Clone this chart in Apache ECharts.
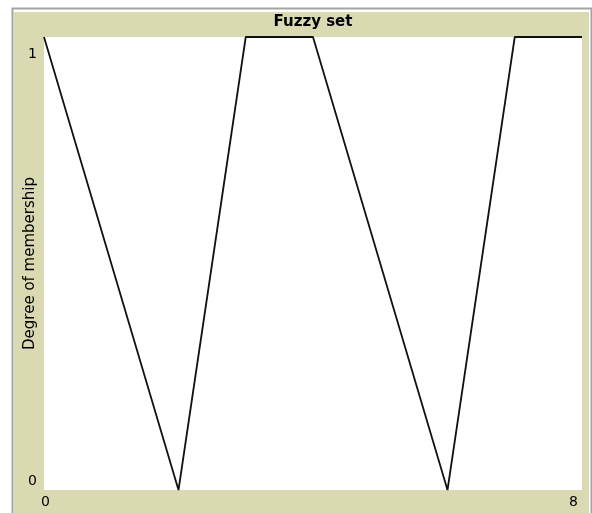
<!DOCTYPE html>
<html>
<head>
<meta charset="utf-8">
<script src="https://cdn.jsdelivr.net/npm/echarts@6/dist/echarts.min.js"></script>
<style>
    html, body { margin: 0; padding: 0; background: #fff; }
    #chart { width: 592px; height: 513px; }
</style>
</head>
<body>
<div id="chart"></div>
<script>
// membership function points [x, degree]
var xValues = [0, 2, 3, 4, 6, 7, 8];
var yValues = [1, 0, 1, 1, 0, 1, 1];
var xTicks = [0, 8];
var yTicks = [0, 1];

var points = xValues.map(function(x, i) {
    return [x, yValues[i]];
});

var beige = '#dadab2';
var chart = echarts.init(document.getElementById('chart'));

var option = {
    backgroundColor: '#fff',
    animation: false,
    graphic: [{
        type: 'rect',
        z: -10,
        shape: { x: 12.5, y: 8.5, width: 579, height: 520 },
        style: { fill: '#fff', stroke: '#a4a4a4', lineWidth: 2 }
    }, {
        type: 'rect',
        z: -9,
        shape: { x: 14, y: 12, width: 575, height: 510 },
        style: { fill: beige }
    }],
    title: {
        text: 'Fuzzy set',
        left: 313,
        top: 15,
        textAlign: 'center',
        padding: 0,
        textStyle: {
            fontFamily: 'DejaVu Sans',
            fontWeight: 'bold',
            fontSize: 15,
            color: '#000'
        }
    },
    grid: {
        left: 44,
        right: 10,
        top: 37,
        bottom: 23,
        show: true,
        backgroundColor: '#fff',
        borderWidth: 0
    },
    xAxis: {
        type: 'value',
        min: xTicks[0],
        max: xTicks[1],
        interval: xTicks[1] - xTicks[0],
        axisLine: { show: false },
        axisTick: { show: false },
        splitLine: { show: false },
        axisLabel: {
            margin: 5,
            fontFamily: 'DejaVu Sans',
            fontSize: 14,
            color: '#000',
            formatter: function(v) {
                return v === xTicks[0] ? '{lo|' + v + '}' : '{hi|' + v + '}';
            },
            rich: {
                lo: { padding: [0, 0, 0, 3], fontSize: 14, color: '#000' },
                hi: { padding: [0, 17, 0, 0], fontSize: 14, color: '#000' }
            }
        }
    },
    yAxis: {
        type: 'value',
        min: yTicks[0],
        max: yTicks[1],
        interval: 1,
        name: 'Degree of membership',
        nameLocation: 'middle',
        nameRotate: 90,
        nameGap: 6,
        nameMoveOverlap: false,
        nameTextStyle: {
            fontFamily: 'DejaVu Sans',
            fontSize: 15,
            color: '#000'
        },
        axisLine: { show: false },
        axisTick: { show: false },
        splitLine: { show: false },
        axisLabel: {
            margin: 7,
            fontFamily: 'DejaVu Sans',
            fontSize: 14,
            color: '#000',
            formatter: function(v) {
                return v === yTicks[1] ? '{hi|' + v + '}' : '{lo|' + v + '}';
            },
            rich: {
                hi: { padding: [34, 0, 0, 0], fontSize: 14, color: '#000' },
                lo: { padding: [0, 0, 18, 0], fontSize: 14, color: '#000' }
            }
        }
    },
    series: [{
        type: 'line',
        data: points,
        showSymbol: false,
        symbol: 'none',
        lineStyle: { color: '#111', width: 1.8 }
    }]
};
chart.setOption(option);
</script>
</body>
</html>
